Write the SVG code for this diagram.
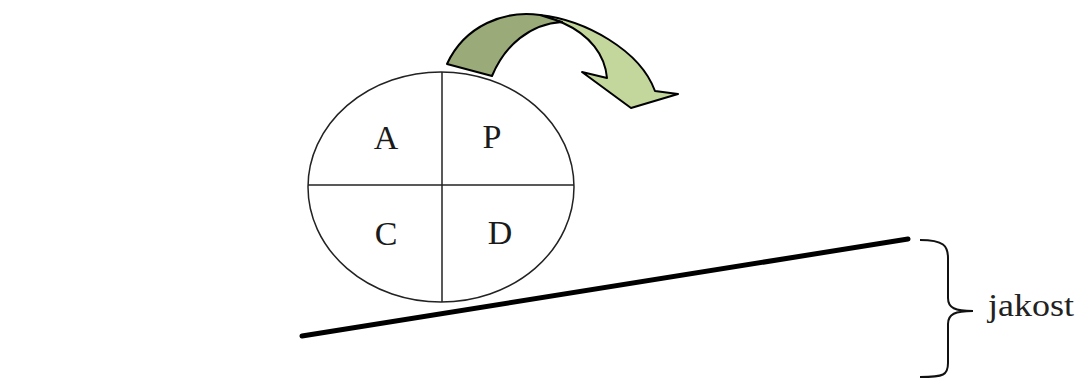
<svg xmlns="http://www.w3.org/2000/svg" width="1078" height="383" viewBox="0 0 1078 383">
<style>
.lbl{font-family:"Liberation Serif","Times New Roman",serif;font-size:34px;fill:#1a1a1a;text-anchor:middle}
.thin{fill:none;stroke:#222;stroke-width:1.5}
.arr{stroke:#000;stroke-width:2;stroke-linejoin:round}
</style>
<rect width="1078" height="383" fill="#fff"/>
<g id="pdca">
<ellipse cx="441" cy="187" rx="133" ry="115" class="thin"/>
<line x1="442" y1="72" x2="442" y2="302" class="thin"/>
<line x1="308" y1="185" x2="574" y2="185" class="thin"/>
<text x="386" y="149" class="lbl">A</text>
<text x="492" y="148" class="lbl">P</text>
<text x="386" y="245" class="lbl">C</text>
<text x="500" y="244" class="lbl">D</text>
</g>
<g id="arrow">
<path class="arr" fill="#c3d69b" d="M540,15 C585,20 640,50 655,91 L678,94 L631,108 L582,72 L607,78 C605,55 590,35 563,23 Z"/>
<path class="arr" fill="#9aab79" d="M447,64 C465,25 505,10 540,15 L562,22 C530,24 505,45 492,76 Z"/>
</g>
<g id="connectors">
<line x1="302" y1="336" x2="908" y2="239" stroke="#000" stroke-width="5" stroke-linecap="round"/>
</g>
<g id="brace">
<path fill="none" stroke="#111" stroke-width="2" d="M920,240 C944,240 948,246 948,258 L948,298 C948,308 955,311 973,311 C955,311 948,314 948,324 L948,363 C948,375 944,377 920,377"/>
<text x="988" y="316" font-family="'Liberation Serif','Times New Roman',serif" font-size="32" fill="#222" textLength="86" lengthAdjust="spacingAndGlyphs">jakost</text>
</g>
</svg>
